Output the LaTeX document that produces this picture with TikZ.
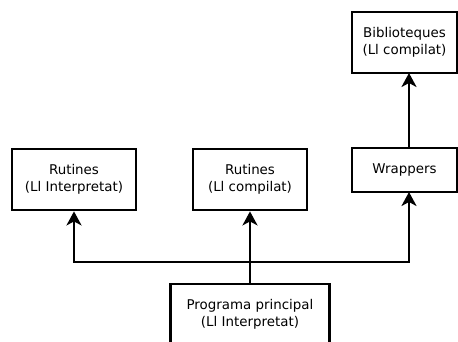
\documentclass[tikz,border=0pt]{standalone}
\usepackage{fontspec}
\setmainfont{DejaVu Sans}
\usetikzlibrary{arrows.meta}
\begin{document}
\begin{tikzpicture}[x=1pt,y=-1pt,
  box/.style={draw,line width=2.8pt,minimum width=#1,inner sep=0pt,align=center,
    font=\fontsize{13.4}{17}\selectfont},
  arr/.style={line width=2.8pt,line join=miter,-{Stealth[length=14pt,width=15pt,inset=4pt]}}]
\path[use as bounding box,clip] (0,0) rectangle (458,342);
\node[box=124pt,minimum height=61pt] (rl) at (74,179.5) {Rutines\\(Ll Interpretat)};
\node[box=114pt,minimum height=61pt] (rm) at (250,179.5) {Rutines\\(Ll compilat)};
\node[box=105pt,minimum height=44pt] (wr) at (404.5,170) {Wrappers};
\node[box=105pt,minimum height=61pt] (bib) at (404.5,42.5) {Biblioteques\\(Ll compilat)};
\node[box=159pt,minimum height=61pt] (pp) at (250,314.5) {Programa principal\\(Ll Interpretat)};
\coordinate (j) at (250,262);
\coordinate (wa) at (409,192);
\coordinate (wt) at (409,148);
\coordinate (bb) at (409,73);
\draw[arr] (pp.north) -- (rm.south);
\draw[arr] (j) -| (rl.south);
\draw[arr] (j) -| (wa);
\draw[arr] (wt) -- (bb);
\end{tikzpicture}
\end{document}
